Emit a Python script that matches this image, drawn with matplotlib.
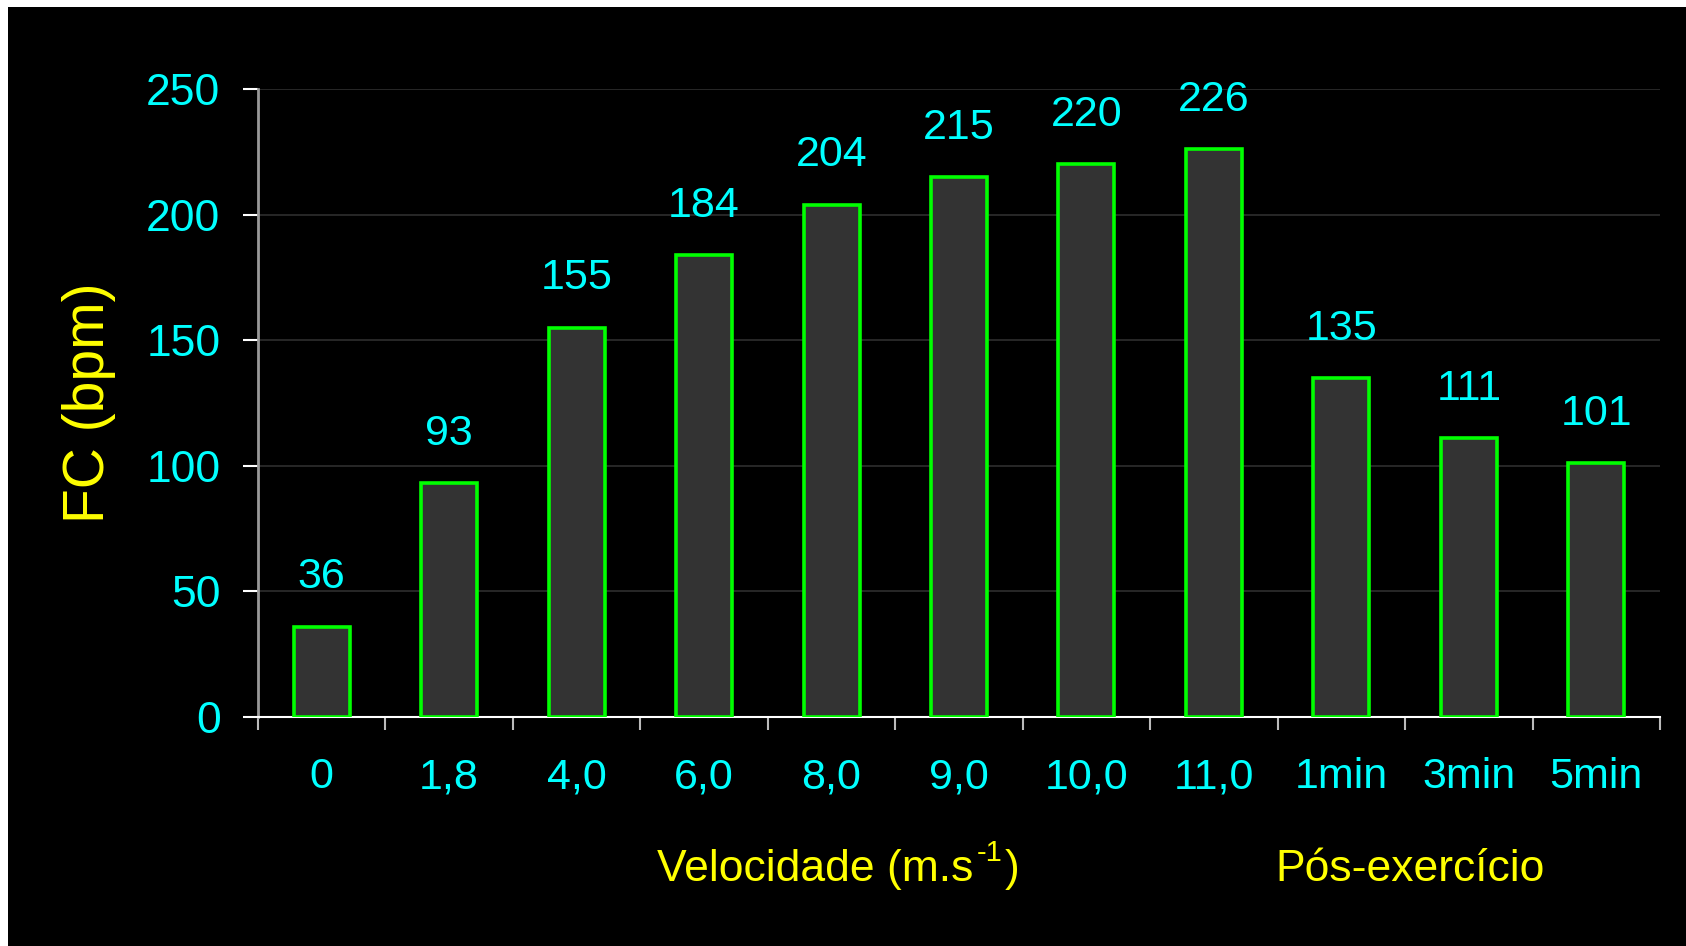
import numpy as np
import matplotlib.pyplot as plt
from matplotlib.patches import Rectangle
from matplotlib.ticker import FixedLocator

plt.rcParams['font.family'] = ['Liberation Sans', 'DejaVu Sans']

categories = ['0', '1,8', '4,0', '6,0', '8,0', '9,0', '10,0', '11,0', '1min', '3min', '5min']
fc_bpm = [36, 93, 155, 184, 204, 215, 220, 226, 135, 111, 101]
y_ticks = [0, 50, 100, 150, 200, 250]

cyan = '#00ffff'
yellow = '#ffff00'

fig = plt.figure(figsize=(16.86, 9.46), dpi=100)
fig.patch.set_facecolor('white')
# black slide area, leaving a thin white strip on top and left
fig.add_artist(Rectangle((8 / 1686, 0), 1, 1 - 7 / 946, transform=fig.transFigure,
                         facecolor='black', edgecolor='none', zorder=-10))

ax = fig.add_axes([258 / 1686, 229 / 946, (1660 - 258) / 1686, (717 - 89) / 946])
ax.set_facecolor('black')

x = np.arange(len(categories))
bars = ax.bar(x, fc_bpm, width=0.44, color='#333333', edgecolor='#00ff00',
              linewidth=2.6, zorder=3)

for xi, v in zip(x, fc_bpm):
    ax.annotate(str(v), (xi, v), xytext=(0, 21), textcoords='offset points',
                ha='center', va='bottom', color=cyan, fontsize=31)

ax.set_xlim(-0.5, len(categories) - 0.5)
ax.set_ylim(0, 250)
ax.set_yticks(y_ticks)
ax.set_yticklabels([str(t) for t in y_ticks], color=cyan, fontsize=32)
ax.yaxis.grid(True, color='#2e2e2e', linewidth=1.2, zorder=0)

ax.set_xticks(x)
ax.set_xticklabels(categories, color=cyan, fontsize=31)
ax.xaxis.set_minor_locator(FixedLocator(np.arange(-0.5, len(categories), 1.0)))
ax.tick_params(axis='x', which='major', length=0, pad=29)
ax.tick_params(axis='x', which='minor', length=9, width=1.5, color='#bbbbbb')
ax.tick_params(axis='y', length=11, width=1.5, color='white', pad=16)

for side in ['top', 'right']:
    ax.spines[side].set_visible(False)
ax.spines['left'].set_color('#999999')
ax.spines['left'].set_linewidth(2)
ax.spines['bottom'].set_color('white')
ax.spines['bottom'].set_linewidth(1.5)

ax.set_ylabel('FC (bpm)', color=yellow, fontsize=41, labelpad=22)

# x-axis titles: velocity steps and recovery minutes
xl = fig.text(815 / 1686, 1 - 869 / 946, 'Velocidade (m.s', color=yellow,
              fontsize=32, ha='center', va='center')
fig.canvas.draw()
bb = xl.get_window_extent()
fig.text(bb.x1 / 1686 + 0.002, 1 - 853 / 946, '-1', color=yellow,
         fontsize=21, ha='left', va='center')
fig.text(bb.x1 / 1686 + 0.019, 1 - 869 / 946, ')', color=yellow,
         fontsize=32, ha='left', va='center')
fig.text(1410 / 1686, 1 - 869 / 946, 'Pós-exercício',
         color=yellow, fontsize=32, ha='center', va='center')

fig.savefig('out.png', dpi=100, facecolor=fig.get_facecolor())
